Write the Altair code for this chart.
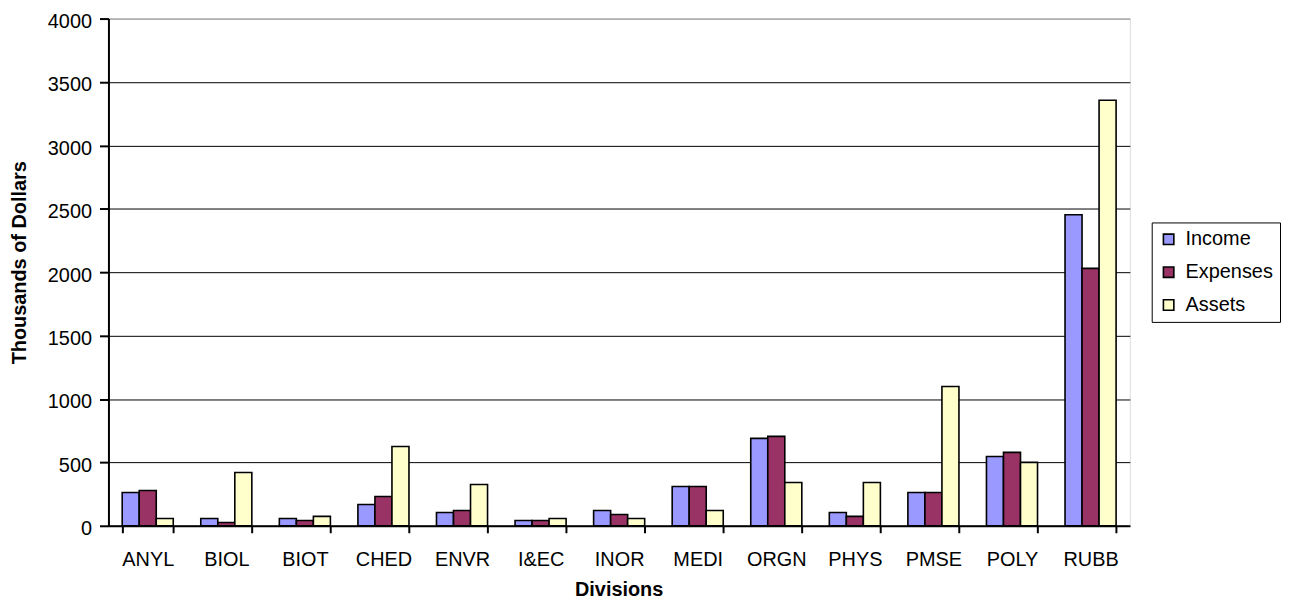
import altair as alt
import pandas as pd

divisions = ["ANYL", "BIOL", "BIOT", "CHED", "ENVR", "I&EC", "INOR",
             "MEDI", "ORGN", "PHYS", "PMSE", "POLY", "RUBB"]
series = ["Income", "Expenses", "Assets"]
income = [263, 58, 58, 168, 105, 42, 121, 310, 689, 105, 263, 547, 2453]
expenses = [278, 26, 42, 231, 121, 42, 89, 310, 705, 74, 263, 579, 2030]
assets = [58, 420, 74, 625, 326, 58, 58, 121, 342, 342, 1099, 500, 3356]
colors = ["#9999FF", "#993366", "#FFFFCC"]
y_ticks = [0, 500, 1000, 1500, 2000, 2500, 3000, 3500, 4000]

rows = []
for name, vals in zip(series, [income, expenses, assets]):
    for d, v in zip(divisions, vals):
        rows.append({"Division": d, "Series": name, "Value": v})
df = pd.DataFrame(rows)

FONT = "Liberation Sans"

chart = alt.Chart(df).mark_bar(stroke="black", strokeWidth=1.6).encode(
    x=alt.X("Division:N", sort=divisions,
            scale=alt.Scale(paddingInner=0.35, paddingOuter=0.175),
            axis=alt.Axis(title="Divisions", labelAngle=0, tickBand="extent",
                          labelFontSize=20, labelColor="black", labelFont=FONT,
                          titleFont=FONT, titleFontSize=20, titleFontWeight="bold",
                          titleColor="black", titleX=513, titleY=70,
                          titleBaseline="alphabetic",
                          labelPadding=17,
                          domainColor="black", domainWidth=2,
                          tickColor="black", tickWidth=2, tickSize=7)),
    xOffset=alt.XOffset("Series:N", sort=series, scale=alt.Scale(paddingInner=0)),
    y=alt.Y("Value:Q", scale=alt.Scale(domain=[0, 4000], nice=False),
            axis=alt.Axis(title="Thousands of Dollars", values=y_ticks, format="d",
                          labelFontSize=20, labelColor="black", labelFont=FONT,
                          labelOffset=3,
                          titleFont=FONT, titleFontSize=20, titleFontWeight="bold",
                          titleColor="black", titleX=-89, titleY=245,
                          titleAngle=270, titleAlign="center", titleBaseline="middle",
                          labelPadding=8,
                          domainColor="black", domainWidth=2,
                          tickColor="black", tickWidth=2, tickSize=9,
                          grid=True,
                          gridColor=alt.condition("datum.value == 4000",
                                                  alt.value("#808080"),
                                                  alt.value("black")),
                          gridWidth=1)),
    color=alt.Color("Series:N", sort=series,
                    scale=alt.Scale(domain=series, range=colors),
                    legend=alt.Legend(title=None, orient="none",
                                      legendX=1049, legendY=205,
                                      strokeColor="black", fillColor="white",
                                      padding=7, symbolType="square",
                                      symbolSize=110, symbolStrokeColor="black",
                                      symbolStrokeWidth=1.6, labelFontSize=20,
                                      labelFont=FONT, labelColor="black",
                                      rowPadding=13, labelOffset=7)),
).properties(
    width=1027,
    height=510,
    padding={"left": 101, "top": 9, "right": 154, "bottom": 75},
    autosize=alt.AutoSizeParams(type="none"),
).configure_view(
    stroke="#808080", strokeWidth=1.5
).configure(background="white")

chart.save("out.html", embed_options={"renderer": "svg", "actions": False})
